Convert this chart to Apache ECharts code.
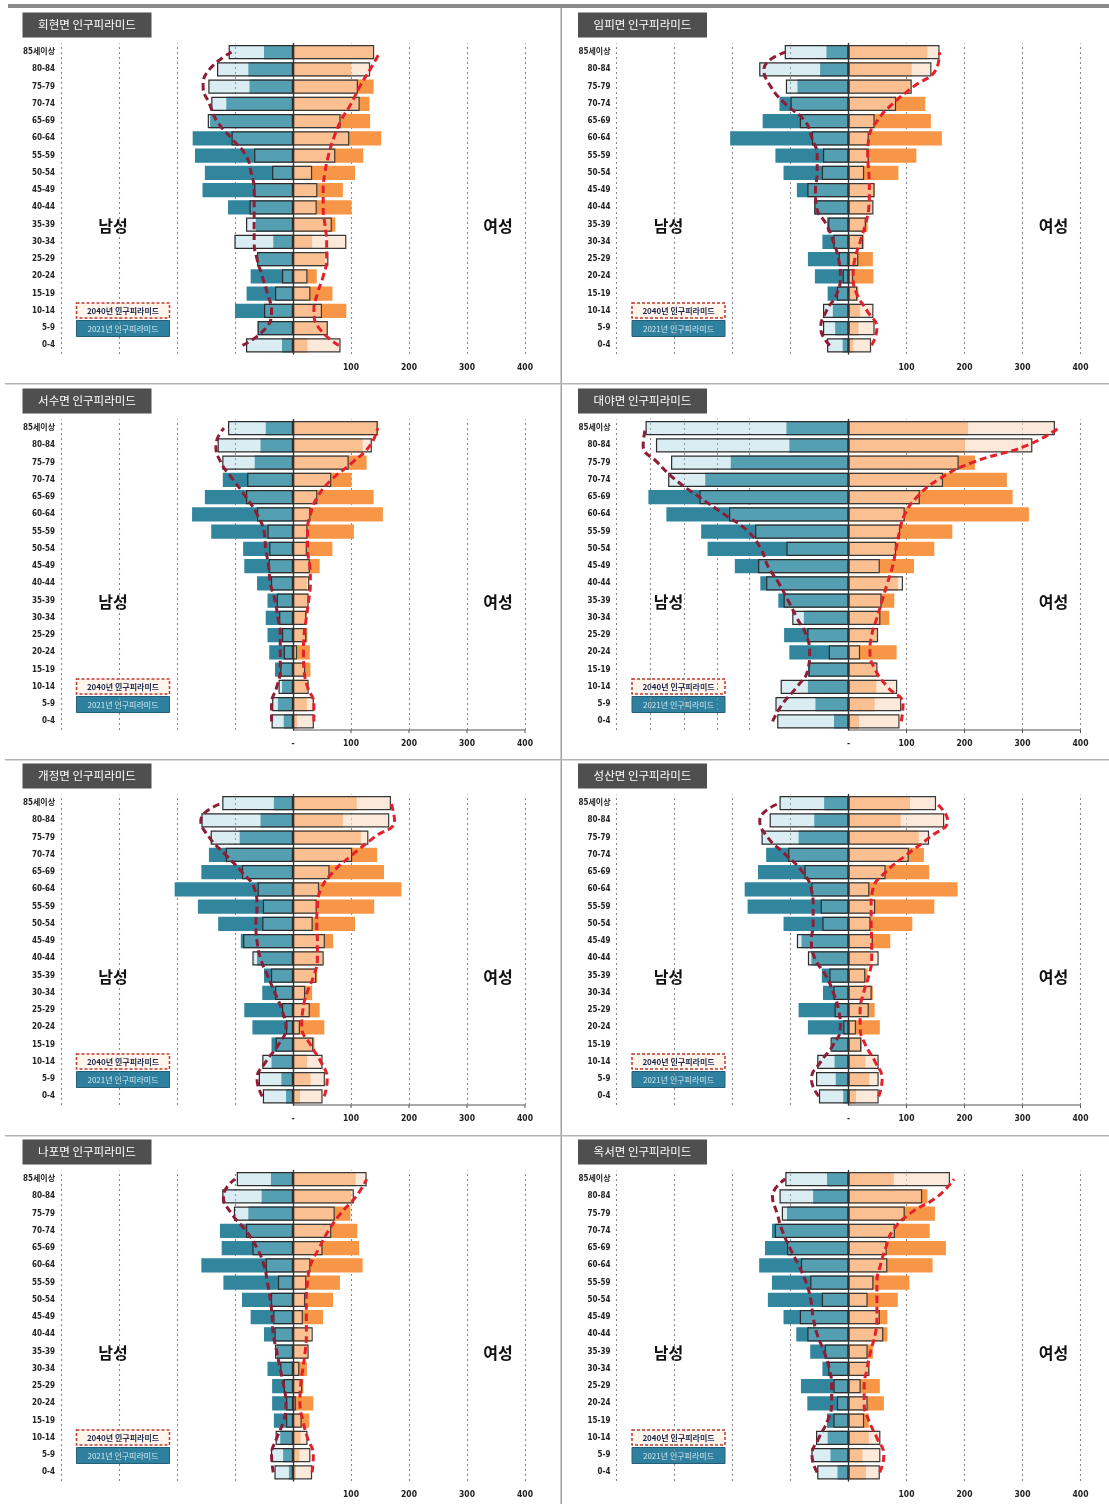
<!DOCTYPE html>
<html><head><meta charset="utf-8">
<script src="https://cdn.jsdelivr.net/npm/echarts@6/dist/echarts.min.js"></script>
<style>html,body{margin:0;padding:0;background:#fff}#c{width:1109px;height:1504px}</style>
</head><body><div id="c"></div>
<script>
// ---------- data (bottom -> top: 0-4 ... 85세이상) ----------
const ages = ['0-4','5-9','10-14','15-19','20-24','25-29','30-34','35-39','40-44','45-49','50-54','55-59','60-64','65-69','70-74','75-79','80-84','85세이상'];
const xTickLabels = [100, 200, 300, 400];
const panelTitles = ['회현면 인구피라미드','임피면 인구피라미드','서수면 인구피라미드','대야면 인구피라미드','개정면 인구피라미드','성산면 인구피라미드','나포면 인구피라미드','옥서면 인구피라미드'];
const legendLabels = ['2040년 인구피라미드', '2021년 인구피라미드'];
const sideLabels = ['남성', '여성'];

// bars: 2021 (solid) and 2040 (outlined) ; curves: dashed trend lines
const hoehyeonMale2021   = [19, 61, 100, 80, 73, 61, 34, 64, 112, 156, 152, 169, 173, 143, 115, 75, 77, 50];
const hoehyeonMale2040   = [81, 61, 50, 31, 19, 62, 101, 81, 75, 67, 36, 67, 106, 147, 141, 146, 131, 111];
const hoehyeonFemale2021 = [25, 60, 92, 68, 41, 55, 33, 73, 101, 86, 107, 121, 152, 133, 132, 139, 100, 139];
const hoehyeonFemale2040 = [82, 60, 50, 30, 25, 61, 92, 67, 41, 42, 33, 73, 97, 82, 115, 112, 133, 140];
const hoehyeonMaleCurve   = [87, 47, 37, 44, 53, 62, 67, 67, 67, 67, 72, 81, 106, 131, 144, 155, 144, 106];
const hoehyeonFemaleCurve = [79, 45, 36, 42, 52, 58, 58, 55, 52, 52, 55, 61, 70, 82, 100, 115, 133, 150];

const impiMale2021   = [10, 23, 27, 36, 58, 70, 45, 37, 59, 89, 112, 126, 204, 148, 119, 88, 49, 38];
const impiMale2040   = [37, 44, 44, 20, 10, 17, 26, 35, 59, 71, 46, 44, 63, 84, 100, 108, 154, 110];
const impiFemale2021 = [8, 17, 20, 17, 43, 42, 27, 33, 40, 45, 86, 117, 161, 142, 132, 108, 109, 136];
const impiFemale2040 = [39, 45, 43, 15, 8, 17, 25, 30, 43, 45, 27, 35, 35, 45, 82, 109, 143, 157];
const impiMaleCurve   = [32, 48, 38, 20, 14, 17, 26, 38, 55, 57, 54, 54, 63, 75, 109, 134, 146, 109];
const impiFemaleCurve = [40, 49, 32, 14, 8, 11, 20, 29, 35, 36, 35, 33, 35, 49, 76, 112, 151, 157];

const seosuMale2021   = [16, 26, 19, 31, 41, 44, 47, 44, 62, 84, 86, 141, 174, 152, 121, 66, 56, 47];
const seosuMale2040   = [37, 36, 25, 22, 16, 19, 24, 28, 38, 42, 41, 44, 62, 81, 79, 122, 130, 112];
const seosuFemale2021 = [7, 24, 24, 30, 29, 25, 24, 25, 24, 46, 68, 105, 155, 139, 101, 127, 120, 147];
const seosuFemale2040 = [36, 36, 27, 21, 7, 23, 23, 27, 28, 29, 24, 25, 30, 42, 66, 96, 136, 146];
const seosuMaleCurve   = [37, 37, 28, 22, 22, 22, 26, 31, 39, 42, 47, 50, 62, 81, 103, 124, 133, 119];
const seosuFemaleCurve = [36, 36, 25, 19, 18, 19, 23, 27, 30, 29, 25, 25, 30, 42, 66, 102, 133, 146];

const daeyaMale2021   = [25, 57, 70, 70, 102, 111, 77, 121, 152, 196, 243, 254, 314, 345, 247, 203, 102, 107];
const daeyaMale2040   = [123, 126, 117, 69, 34, 71, 97, 112, 142, 156, 107, 161, 206, 257, 311, 306, 332, 350];
const daeyaFemale2021 = [18, 45, 48, 49, 83, 49, 70, 79, 85, 113, 148, 179, 311, 283, 273, 218, 201, 206];
const daeyaFemale2040 = [88, 91, 84, 50, 20, 51, 55, 57, 94, 54, 82, 89, 97, 123, 163, 190, 317, 356];
const daeyaMaleCurve   = [131, 114, 89, 70, 67, 73, 89, 104, 120, 139, 151, 173, 214, 257, 298, 329, 354, 350];
const daeyaFemaleCurve = [91, 94, 67, 46, 37, 40, 49, 58, 67, 76, 82, 88, 97, 118, 154, 213, 308, 362];

const gaejeongMale2021   = [12, 20, 37, 37, 70, 84, 53, 50, 62, 90, 129, 164, 204, 158, 145, 92, 56, 33];
const gaejeongMale2040   = [52, 59, 53, 30, 12, 19, 31, 38, 70, 86, 53, 52, 61, 88, 116, 142, 158, 122];
const gaejeongFemale2021 = [12, 30, 24, 37, 54, 46, 33, 42, 51, 69, 107, 140, 187, 157, 145, 117, 86, 110];
const gaejeongFemale2040 = [51, 55, 51, 35, 12, 29, 21, 40, 53, 55, 34, 41, 45, 63, 102, 130, 166, 169];
const gaejeongMaleCurve   = [53, 62, 47, 25, 12, 19, 31, 44, 56, 62, 64, 62, 66, 88, 116, 144, 159, 122];
const gaejeongFemaleCurve = [54, 59, 48, 30, 15, 17, 24, 36, 42, 42, 41, 42, 48, 69, 102, 139, 175, 169];

const seongsanMale2021   = [9, 22, 24, 29, 70, 86, 44, 46, 64, 81, 112, 174, 179, 156, 142, 86, 59, 42];
const seongsanMale2040   = [51, 56, 54, 31, 9, 24, 26, 33, 70, 89, 45, 48, 64, 76, 104, 150, 136, 119];
const seongsanFemale2021 = [13, 36, 29, 23, 54, 45, 42, 33, 38, 72, 110, 148, 188, 139, 130, 121, 90, 106];
const seongsanFemale2040 = [52, 52, 52, 22, 13, 35, 40, 29, 52, 42, 38, 46, 36, 64, 104, 139, 165, 151];
const seongsanMaleCurve   = [51, 64, 48, 26, 14, 17, 26, 39, 58, 64, 61, 61, 64, 79, 108, 139, 153, 119];
const seongsanFemaleCurve = [52, 58, 46, 29, 20, 20, 26, 35, 40, 40, 39, 39, 42, 64, 100, 139, 171, 151];

const napoMale2021   = [7, 17, 22, 33, 36, 36, 44, 28, 50, 73, 88, 120, 158, 123, 126, 77, 54, 38];
const napoMale2040   = [32, 38, 30, 12, 12, 16, 22, 31, 32, 34, 38, 26, 47, 70, 81, 102, 122, 97];
const napoFemale2021 = [5, 11, 13, 28, 35, 18, 24, 25, 30, 52, 69, 81, 120, 114, 111, 99, 100, 108];
const napoFemale2040 = [33, 30, 25, 15, 5, 16, 11, 27, 34, 17, 21, 23, 30, 51, 66, 72, 105, 127];
const napoMaleCurve   = [34, 37, 28, 16, 12, 16, 22, 28, 34, 36, 39, 44, 50, 62, 81, 106, 120, 100];
const napoFemaleCurve = [33, 35, 25, 17, 12, 13, 17, 21, 23, 23, 23, 25, 30, 45, 61, 82, 109, 127];

const okseoMale2021   = [19, 31, 36, 37, 71, 82, 45, 66, 90, 112, 139, 132, 154, 144, 132, 106, 61, 37];
const okseoMale2040   = [54, 64, 56, 26, 20, 26, 35, 41, 71, 84, 46, 66, 82, 106, 127, 115, 119, 109];
const okseoFemale2021 = [30, 24, 35, 35, 61, 54, 36, 42, 67, 67, 85, 105, 145, 168, 140, 149, 136, 78];
const okseoFemale2040 = [54, 55, 55, 27, 33, 21, 36, 33, 60, 54, 33, 43, 67, 66, 80, 97, 127, 175];
const okseoMaleCurve   = [54, 63, 51, 36, 29, 29, 33, 42, 54, 61, 65, 73, 86, 101, 114, 123, 131, 109];
const okseoFemaleCurve = [54, 61, 49, 35, 27, 27, 32, 38, 46, 49, 49, 49, 55, 64, 76, 106, 154, 182];

// ---------- assemble ----------
const panels = [
  [hoehyeonMale2021, hoehyeonMale2040, hoehyeonFemale2021, hoehyeonFemale2040, hoehyeonMaleCurve, hoehyeonFemaleCurve],
  [impiMale2021, impiMale2040, impiFemale2021, impiFemale2040, impiMaleCurve, impiFemaleCurve],
  [seosuMale2021, seosuMale2040, seosuFemale2021, seosuFemale2040, seosuMaleCurve, seosuFemaleCurve],
  [daeyaMale2021, daeyaMale2040, daeyaFemale2021, daeyaFemale2040, daeyaMaleCurve, daeyaFemaleCurve],
  [gaejeongMale2021, gaejeongMale2040, gaejeongFemale2021, gaejeongFemale2040, gaejeongMaleCurve, gaejeongFemaleCurve],
  [seongsanMale2021, seongsanMale2040, seongsanFemale2021, seongsanFemale2040, seongsanMaleCurve, seongsanFemaleCurve],
  [napoMale2021, napoMale2040, napoFemale2021, napoFemale2040, napoMaleCurve, napoFemaleCurve],
  [okseoMale2021, okseoMale2040, okseoFemale2021, okseoFemale2040, okseoMaleCurve, okseoFemaleCurve]
];
const showZeroAxis = [false, false, true, true, true, true, false, false];
const stdGrid = [-400, -300, -200, -100, 100, 200, 300, 400];
const gridVals = [stdGrid, stdGrid, stdGrid, [-400, -341, -283, -226, -171, 100, 200, 300, 400], stdGrid, stdGrid, stdGrid, stdGrid];

// layout
const colCenter = [293, 848.5];
const px100 = 58;
const gridW = px100 * 8;
const rowTop = [43.5, 419.5, 794.5, 1170.5];
const gridH = 310.5;

const FONT = '"Liberation Sans Narrow","DejaVu Sans Condensed","Noto Sans CJK KR",sans-serif';
const KFONT = '"Noto Sans CJK KR","Noto Sans",sans-serif';

const C_M21 = '#31859C';
const C_M40 = 'rgba(149,206,221,0.36)';
const C_F21 = '#F79646';
const C_F40 = 'rgba(252,219,193,0.61)';

const grids = [], xAxes = [], yAxes = [], series = [];
panels.forEach((p, i) => {
  const col = i % 2, row = Math.floor(i / 2);
  grids.push({ left: colCenter[col] - gridW / 2, top: rowTop[row], width: gridW, height: gridH, containLabel: false });
  xAxes.push({
    gridIndex: i, type: 'value', min: -400, max: 400, interval: 100,
    splitLine: { show: false }, axisLine: { show: false }, axisTick: { show: false },
    axisLabel: {
      margin: 10, fontSize: 8.5, fontWeight: 'bold', color: '#222', fontFamily: FONT,
      formatter: v => (xTickLabels.indexOf(v) >= 0 ? String(v) : (v === 0 && showZeroAxis[i] ? '-' : ''))
    }
  });
  yAxes.push({
    gridIndex: i, type: 'category', data: ages,
    axisLine: { show: false, onZero: false }, axisTick: { show: false },
    axisLabel: { margin: 6, fontSize: 8, fontWeight: 'bold', color: '#222', fontFamily: FONT }
  });
  yAxes.push({
    gridIndex: i, type: 'category', data: ages, z: 20,
    axisLine: { show: true, onZero: true, lineStyle: { color: '#333', width: 1.4 } },
    axisTick: { show: false }, axisLabel: { show: false }
  });
  const yi = i * 2;
  const [m21, m40, f21, f40, mc, fc] = p;
  const common = { xAxisIndex: i, yAxisIndex: yi, barGap: '-100%', barCategoryGap: '17%', silent: true, animation: false };
  series.push({
    ...common, type: 'bar', z: 10, data: m21.map(v => -v), itemStyle: { color: C_M21 },
    markLine: {
      z: 1, silent: true, symbol: ['none', 'none'], label: { show: false }, animation: false,
      lineStyle: { color: '#8a8a8a', type: [2, 3], width: 1.1 },
      data: gridVals[i].map(v => ({ xAxis: v }))
    }
  });
  series.push({ ...common, type: 'bar', z: 10, data: f21, itemStyle: { color: C_F21 } });
  series.push({ ...common, type: 'bar', z: 11, data: m40.map(v => -v), itemStyle: { color: C_M40, borderColor: '#2c2c2c', borderWidth: 1.2 } });
  series.push({ ...common, type: 'bar', z: 11, data: f40, itemStyle: { color: C_F40, borderColor: '#3a3a3a', borderWidth: 1.2 } });
  series.push({
    type: 'line', xAxisIndex: i, yAxisIndex: yi, z: 13, silent: true, animation: false,
    data: mc.map(v => -v), smooth: 0.5, symbol: 'none',
    lineStyle: { color: '#8e1d36', width: 3, type: [7, 4] }
  });
  series.push({
    type: 'line', xAxisIndex: i, yAxisIndex: yi, z: 13, silent: true, animation: false,
    data: fc, smooth: 0.5, symbol: 'none',
    lineStyle: { color: '#e4212a', width: 3, type: [7, 4] }
  });
});

const chart = echarts.init(document.getElementById('c'), null, { renderer: 'canvas' });
chart.setOption({
  backgroundColor: '#fff', animation: false,
  grid: grids, xAxis: xAxes, yAxis: yAxes, series: series
});

// ---------- decorations ----------
const els = [];
els.push({ type: 'rect', shape: { x: 8, y: 4, width: 1101, height: 4 }, style: { fill: '#8a8a8a' }, silent: true });
els.push({ type: 'rect', shape: { x: 560.5, y: 8, width: 1.5, height: 1496 }, style: { fill: '#a0a0a0' }, silent: true });
[383, 759, 1135].forEach(y => els.push({ type: 'rect', shape: { x: 5, y: y, width: 1104, height: 1.5 }, style: { fill: '#b4b4b4' }, silent: true }));

panels.forEach((p, i) => {
  const col = i % 2, row = Math.floor(i / 2);
  const cx = colCenter[col], top = rowTop[row];
  els.push({ type: 'rect', shape: { x: cx - 270.5, y: top - 31, width: 129, height: 25 }, style: { fill: '#4f4f4f' }, silent: true });
  els.push({ type: 'text', style: { text: panelTitles[i], x: cx - 206, y: top - 18.5, fill: '#fff', font: '11.5px ' + KFONT, align: 'center', verticalAlign: 'middle' }, silent: true });
  els.push({ type: 'text', style: { text: sideLabels[0], x: cx - 180, y: top + 182, fill: '#111', font: 'bold 16px ' + KFONT, align: 'center', verticalAlign: 'middle' }, silent: true });
  els.push({ type: 'text', style: { text: sideLabels[1], x: cx + 205, y: top + 182, fill: '#111', font: 'bold 16px ' + KFONT, align: 'center', verticalAlign: 'middle' }, silent: true });
  const lx = cx - 216.5;
  els.push({ type: 'rect', shape: { x: lx, y: top + 259.5, width: 93, height: 15 }, style: { fill: '#fff5ec', stroke: '#c0392b', lineWidth: 1.5, lineDash: [3, 2] }, silent: true });
  els.push({ type: 'text', style: { text: legendLabels[0], x: lx + 46.5, y: top + 267, fill: '#1d2a4d', font: 'bold 8px ' + KFONT, align: 'center', verticalAlign: 'middle' }, silent: true });
  els.push({ type: 'rect', shape: { x: lx, y: top + 277, width: 93, height: 16 }, style: { fill: '#2f809e', stroke: '#235f78', lineWidth: 1 }, silent: true });
  els.push({ type: 'text', style: { text: legendLabels[1], x: lx + 46.5, y: top + 285, fill: '#cfe6ee', font: '8px ' + KFONT, align: 'center', verticalAlign: 'middle' }, silent: true });
  if (showZeroAxis[i]) {
    const p0 = chart.convertToPixel({ xAxisIndex: i }, 0);
    const p4 = chart.convertToPixel({ xAxisIndex: i }, 400);
    const yb = top + gridH;
    els.push({ type: 'line', shape: { x1: p0, y1: yb, x2: p4, y2: yb }, style: { stroke: '#555', lineWidth: 1 }, silent: true });
    xTickLabels.forEach(v => {
      const px = chart.convertToPixel({ xAxisIndex: i }, v);
      els.push({ type: 'line', shape: { x1: px, y1: yb, x2: px, y2: yb + 3 }, style: { stroke: '#555', lineWidth: 1 }, silent: true });
    });
  }
});
chart.setOption({ graphic: { elements: els } });
</script>
</body></html>
